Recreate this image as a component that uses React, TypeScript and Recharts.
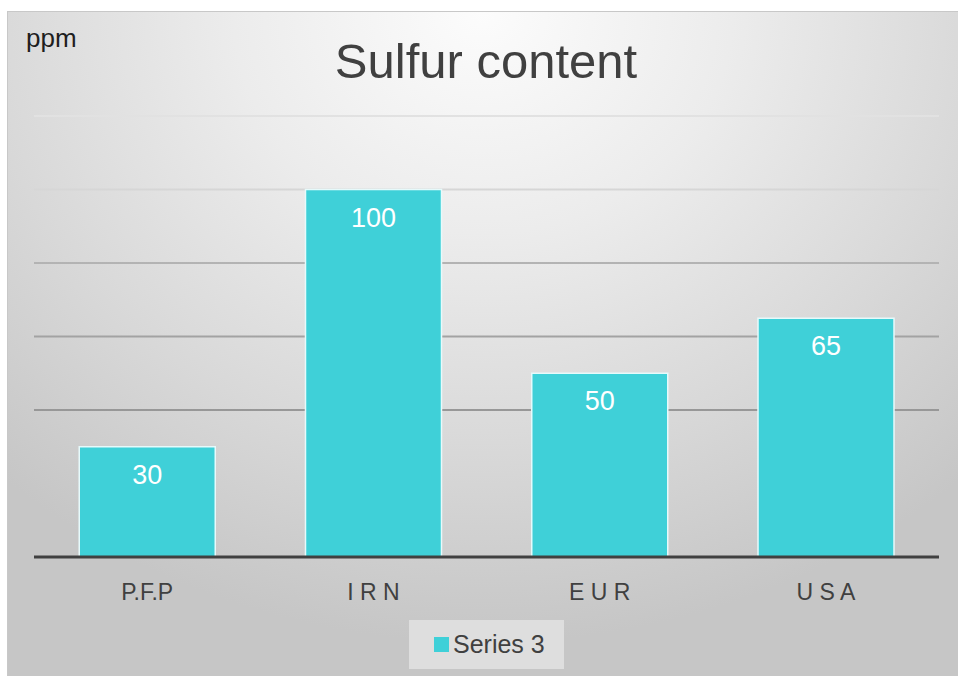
import { BarChart, Bar, XAxis, YAxis, CartesianGrid, Legend, LabelList } from "recharts";

const categories = ["P.F.P", "I R N", "E U R", "U S A"];
const series3 = [30, 100, 50, 65];
const gridTicks = [40, 60, 80, 100, 120];

const data = categories.map((name, i) => ({ name, value: series3[i] }));

const FONT = '"Liberation Sans", Arial, sans-serif';
const BAR_COLOR = "#3fd0d8";

function LegendBox() {
  return (
    <div
      style={{
        width: 155,
        height: 49,
        background: "#dedede",
        display: "flex",
        alignItems: "center",
        fontFamily: FONT,
        fontSize: 25,
        color: "#404040",
      }}
    >
      <span style={{ display: "inline-block", width: 15, height: 15, background: BAR_COLOR, marginLeft: 25, marginRight: 4 }} />
      <span>Series 3</span>
    </div>
  );
}

export default function App() {
  return (
    <div
      style={{
        position: "absolute",
        left: 7,
        top: 11,
        width: 951,
        height: 665,
        boxSizing: "border-box",
        borderTop: "1px solid #c8c8c8",
        borderLeft: "1px solid #c8c8c8",
        background: "radial-gradient(ellipse 75% 95% at 50% 0%, #fcfcfc 0%, #ececec 35%, #d8d8d8 70%, #c6c6c6 100%)",
        fontFamily: FONT,
      }}
    >
      <div style={{ position: "absolute", left: 18, top: 13, fontSize: 26, lineHeight: 1, color: "#1e1e1e" }}>ppm</div>
      <div style={{ position: "absolute", left: 0, width: 956, top: 25, fontSize: 49, lineHeight: 1, color: "#404040", textAlign: "center" }}>
        Sulfur content
      </div>
      <BarChart
        width={951}
        height={665}
        data={data}
        margin={{ top: 104, right: 20, left: 26, bottom: 8 }}
        barCategoryGap="20%"
        style={{ position: "absolute", left: 0, top: 0 }}
      >
        <defs>
          <linearGradient id="gridGrad" gradientUnits="userSpaceOnUse" x1="0" y1="100" x2="0" y2="400">
            <stop offset="0%" stopColor="#e2e2e2" />
            <stop offset="30%" stopColor="#d4d4d4" />
            <stop offset="55%" stopColor="#acacac" />
            <stop offset="100%" stopColor="#979797" />
          </linearGradient>
        </defs>
        <CartesianGrid vertical={false} stroke="url(#gridGrad)" strokeWidth={2} />
        <YAxis hide domain={[0, 120]} ticks={gridTicks} />
        <XAxis
          dataKey="name"
          height={63}
          axisLine={{ stroke: "#404040", strokeWidth: 3 }}
          tickLine={false}
          tickMargin={21}
          tick={{ fill: "#404040", fontSize: 23, fontFamily: FONT }}
        />
        <Legend verticalAlign="bottom" content={<LegendBox />} wrapperStyle={{ left: 401, bottom: 8, width: 155, height: 49 }} />
        <Bar dataKey="value" fill={BAR_COLOR} stroke="#e6fafb" strokeWidth={1.5} isAnimationActive={false}>
          <LabelList dataKey="value" position="insideTop" offset={18} fill="#ffffff" fontSize={27} fontFamily={FONT} />
        </Bar>
      </BarChart>
    </div>
  );
}
